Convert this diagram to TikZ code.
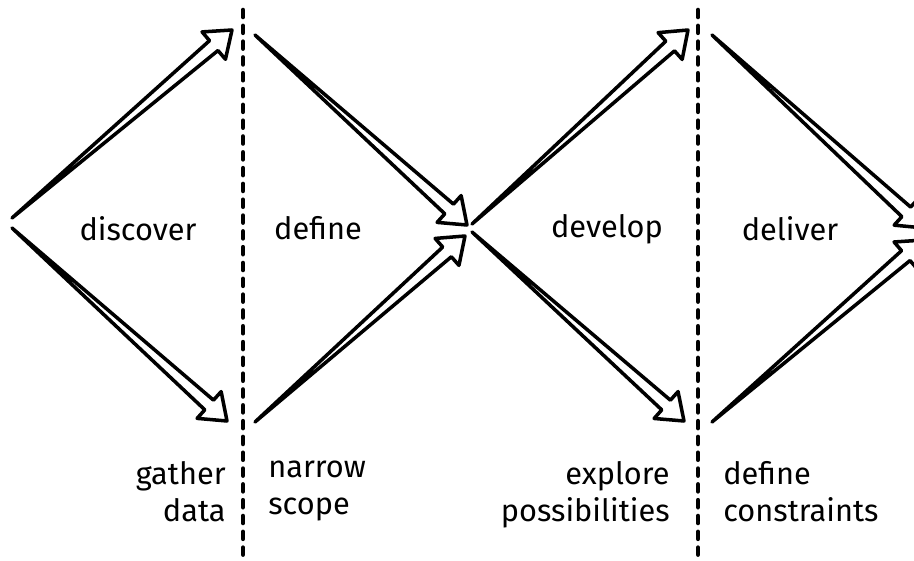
\documentclass[tikz,border=0pt]{standalone}
\usepackage{fontspec}
\setmainfont{Fira Sans}
\usetikzlibrary{calc}

\tikzset{
  phase/.style={font=\fontsize{17.5}{21}\selectfont},
  note/.style={font=\fontsize{17.5}{21}\selectfont, inner sep=0pt},
  divider/.style={line width=2.6pt, line cap=round, dash pattern=on 4pt off 5pt},
  arrowline/.style={line width=2pt, line join=round},
}

% hollow tapered arrow from #1 to the tip #2
\newcommand\hollowarrow[2]{%
  \draw[arrowline] (#1)
    -- ($(#2)!0.48cm!(#1)!0.13cm!90:(#2)$)
    -- ($(#2)!0.48cm!(#1)!0.36cm!90:(#2)$)
    -- (#2)
    -- ($(#2)!0.48cm!(#1)!0.36cm!-90:(#2)$)
    -- ($(#2)!0.48cm!(#1)!0.13cm!-90:(#2)$)
    -- cycle;}

\begin{document}
\begin{tikzpicture}[x=0.02cm, y=-0.02cm]
    \useasboundingbox (0,0) rectangle (914,561);
    \clip (0,0) rectangle (914,561);

    % dividers
    \coordinate (divA top) at (243,10);
    \coordinate (divA bot) at (243,565);
    \coordinate (divB top) at (698,10);
    \coordinate (divB bot) at (698,565);
    \draw[divider] (divA top) -- (divA bot);
    \draw[divider] (divB top) -- (divB bot);

    % first diamond
    \coordinate (discU) at (12,218);
    \coordinate (discD) at (12,228);
    \coordinate (discU tip) at (232,30);
    \coordinate (discD tip) at (227,421);
    \coordinate (defU) at (255,35);
    \coordinate (defD) at (255,422);
    \coordinate (defU tip) at (467,225);
    \coordinate (defD tip) at (465,236);
    \hollowarrow{discU}{discU tip}
    \hollowarrow{discD}{discD tip}
    \hollowarrow{defU}{defU tip}
    \hollowarrow{defD}{defD tip}

    % second diamond
    \coordinate (devU) at (472,224);
    \coordinate (devD) at (472,232);
    \coordinate (devU tip) at (688,30);
    \coordinate (devD tip) at (684,421);
    \coordinate (delU) at (712,35);
    \coordinate (delD) at (712,422);
    \coordinate (delU tip) at (924,228);
    \coordinate (delD tip) at (924,240);
    \hollowarrow{devU}{devU tip}
    \hollowarrow{devD}{devD tip}
    \hollowarrow{delU}{delU tip}
    \hollowarrow{delD}{delD tip}

    % phase names
    \node[phase] (discover) at (138,229) {discover};
    \node[phase] (define) at (318,228) {define};
    \node[phase] (develop) at (607,229) {develop};
    \node[phase] (deliver) at (790,229) {deliver};

    % notes under the diamonds
    \node[note, align=right, anchor=north east] (gather) at (226,461) {gather\\data};
    \node[note, align=left, anchor=north west] (narrow) at (268,461) {narrow\\scope};
    \node[note, align=right, anchor=north east] (explore) at (670,461) {explore\\possibilities};
    \node[note, align=left, anchor=north west] (constraints) at (723,461) {define\\constraints};
\end{tikzpicture}
\end{document}
